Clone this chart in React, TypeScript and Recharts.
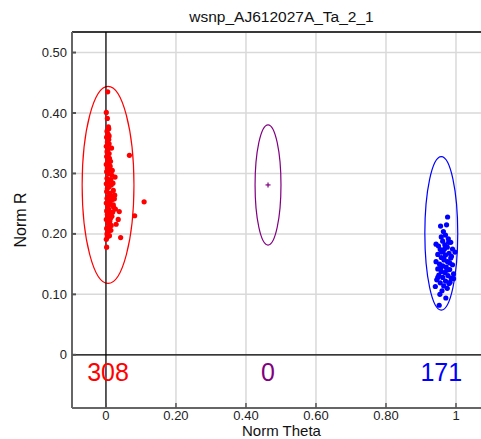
import {
  ScatterChart,
  Scatter,
  XAxis,
  YAxis,
  CartesianGrid,
  ReferenceLine,
  ReferenceArea,
  ReferenceDot,
} from "recharts";

// AA cluster (red)
const redTheta = [
  0.005, 0.001, 0.004, 0.007, 0.008, 0.003, 0.006, 0.002, 0.008, 0.004, 0.009, 0.001, 0.016, 0.006,
  0.003, 0.009, 0.067, 0.002, 0.010, 0.005, 0.008, 0.001, 0.012, 0.004, 0.010, 0.002, 0.007, 0.017,
  0.026, 0.003, 0.011, 0.006, 0.001, 0.015, 0.009, 0.004, 0.021, 0.002, 0.012, 0.025, 0.007, 0.003,
  0.018, 0.010, 0.109, 0.001, 0.014, 0.005, 0.022, 0.008, 0.038, 0.002, 0.012, 0.004, 0.082, 0.017,
  0.007, 0.035, 0.001, 0.011, 0.029, 0.005, 0.009, 0.002, 0.014, 0.006, 0.003, 0.010, 0.042, 0.004,
  0.001, 0.002, 0.009, 0.007, 0.013, 0.018, 0.014, 0.020, 0.019, 0.024, 0.021, 0.027, 0.019, 0.015,
  0.013,
];
const redR = [
  0.435, 0.401, 0.391, 0.377, 0.374, 0.370, 0.365, 0.360, 0.356, 0.352, 0.349, 0.345, 0.342, 0.340,
  0.336, 0.333, 0.330, 0.328, 0.325, 0.322, 0.318, 0.315, 0.312, 0.309, 0.306, 0.303, 0.300, 0.297,
  0.294, 0.292, 0.289, 0.286, 0.283, 0.281, 0.278, 0.275, 0.272, 0.270, 0.267, 0.264, 0.262, 0.259,
  0.257, 0.254, 0.253, 0.251, 0.249, 0.246, 0.244, 0.241, 0.237, 0.238, 0.235, 0.232, 0.230, 0.229,
  0.227, 0.224, 0.224, 0.221, 0.216, 0.218, 0.212, 0.209, 0.206, 0.203, 0.200, 0.197, 0.194, 0.195,
  0.191, 0.178, 0.362, 0.348, 0.320, 0.305, 0.290, 0.284, 0.262, 0.258, 0.248, 0.241, 0.236, 0.214,
  0.226,
];

// BB cluster (blue)
const blueTheta = [
  0.976, 0.956, 0.973, 0.964, 0.943, 0.970, 0.958, 0.978, 0.962, 0.985, 0.950, 0.968, 0.975, 0.990,
  0.955, 0.963, 0.997, 0.980, 0.948, 0.970, 0.958, 0.985, 0.966, 0.943, 0.976, 0.953, 0.990, 0.962,
  0.972, 0.948, 0.982, 0.958, 0.968, 0.993, 0.951, 0.977, 0.962, 0.986, 0.993, 0.945, 0.970, 0.955,
  0.980, 0.941, 0.965, 0.975, 0.954, 0.971, 0.952, 0.960, 0.967, 0.982, 0.959, 0.974, 0.987, 0.956,
  0.979, 0.965, 0.948, 0.983,
];
const blueR = [
  0.228, 0.213, 0.215, 0.204, 0.183, 0.198, 0.195, 0.192, 0.188, 0.186, 0.180, 0.182, 0.178, 0.175,
  0.174, 0.171, 0.170, 0.168, 0.166, 0.165, 0.161, 0.160, 0.157, 0.154, 0.154, 0.150, 0.149, 0.147,
  0.145, 0.142, 0.141, 0.138, 0.136, 0.134, 0.132, 0.131, 0.128, 0.127, 0.126, 0.124, 0.122, 0.119,
  0.118, 0.113, 0.114, 0.110, 0.100, 0.094, 0.082, 0.106, 0.175, 0.152, 0.170, 0.140, 0.163, 0.144,
  0.186, 0.159, 0.128, 0.120,
];

// cluster summaries: AA, AB, BB
const clusterCounts = ["308", "0", "171"];
const clusterTheta = [0.006, 0.463, 0.958];
const clusterR = [0.281, 0.281, 0.201];
const clusterThetaSpread = [0.074, 0.037, 0.047];
const clusterRSpread = [0.163, 0.0995, 0.127];
const clusterColors = ["#ff0000", "#800080", "#0000ff"];

const xTicks = [0, 0.2, 0.4, 0.6, 0.8, 1];
const yTicks = [0, 0.1, 0.2, 0.3, 0.4, 0.5];

const redData = redTheta.map((x, i) => ({ x, y: redR[i] }));
const blueData = blueTheta.map((x, i) => ({ x, y: blueR[i] }));
const centerData = [{ x: clusterTheta[1], y: clusterR[1] }];

const FONT = '"Liberation Sans", Arial, sans-serif';

const fmt = (v: number) => (v === 0 ? "0" : v === 1 ? "1" : v.toFixed(2));

const YTick = (props: any) => {
  const { x, y, payload } = props;
  return (
    <g>
      <line x1={x + 5} x2={x + 9} y1={y} y2={y} stroke="#555" strokeWidth={2} />
      <text x={x} y={y} dy={4.5} textAnchor="end" fontSize={13} fill="#222" fontFamily={FONT}>
        {fmt(payload.value)}
      </text>
    </g>
  );
};

const XTick = (props: any) => {
  const { x, y, payload } = props;
  return (
    <g>
      <line x1={x} x2={x} y1={y - 5} y2={y} stroke="#555" strokeWidth={1.5} />
      <text x={x} y={y + 12} textAnchor="middle" fontSize={13} fill="#222" fontFamily={FONT}>
        {fmt(payload.value)}
      </text>
    </g>
  );
};

const dot = (color: string) => (p: any) => <circle cx={p.cx} cy={p.cy} r={2.6} fill={color} />;

const plus = (p: any) => (
  <g stroke="#800080" strokeWidth={1.2}>
    <line x1={p.cx - 2.5} x2={p.cx + 2.5} y1={p.cy} y2={p.cy} />
    <line x1={p.cx} x2={p.cx} y1={p.cy - 2.5} y2={p.cy + 2.5} />
  </g>
);

export default function App() {
  return (
    <div
      style={{
        position: "fixed",
        left: 0,
        top: 0,
        width: 481,
        height: 439,
        overflow: "hidden",
        background: "#fff",
        fontFamily: FONT,
      }}
    >
      <ScatterChart width={500} height={439} margin={{ top: 32, right: 9, left: 0, bottom: 0 }}>
        <CartesianGrid stroke="#d9d9d9" strokeWidth={1.5} />
        <XAxis
          type="number"
          dataKey="x"
          domain={[-0.097, 1.1]}
          ticks={xTicks}
          allowDataOverflow
          height={31}
          tickSize={0}
          tickMargin={0}
          tickLine={false}
          axisLine={{ stroke: "#666", strokeWidth: 2 }}
          tick={<XTick />}
          label={{ value: "Norm Theta", position: "insideBottom", offset: 3, fontSize: 15, fill: "#111" }}
        />
        <YAxis
          type="number"
          dataKey="y"
          domain={[-0.088, 0.534]}
          ticks={yTicks}
          allowDataOverflow
          width={72}
          tickSize={0}
          tickMargin={5}
          tickLine={false}
          axisLine={{ stroke: "#666", strokeWidth: 2 }}
          tick={<YTick />}
        />
        <ReferenceLine y={0.534} stroke="#000" strokeWidth={1.5} ifOverflow="visible" />
        <ReferenceLine y={0} stroke="#000" strokeWidth={1.2} />
        <ReferenceLine x={0} stroke="#000" strokeWidth={1.2} />
        {clusterTheta.map((cx, i) => (
          <ReferenceArea
            key={"e" + i}
            x1={cx - clusterThetaSpread[i]}
            x2={cx + clusterThetaSpread[i]}
            y1={clusterR[i] - clusterRSpread[i]}
            y2={clusterR[i] + clusterRSpread[i]}
            ifOverflow="visible"
            shape={(p: any) => (
              <ellipse
                cx={p.x + p.width / 2}
                cy={p.y + p.height / 2}
                rx={Math.abs(p.width) / 2}
                ry={Math.abs(p.height) / 2}
                fill="none"
                stroke={clusterColors[i]}
                strokeWidth={1.2}
              />
            )}
          />
        ))}
        <Scatter data={redData} shape={dot("#ff0000")} isAnimationActive={false} />
        <Scatter data={blueData} shape={dot("#0000ff")} isAnimationActive={false} />
        <Scatter data={centerData} shape={plus} isAnimationActive={false} />
        {clusterTheta.map((cx, i) => (
          <ReferenceDot
            key={"c" + i}
            x={cx}
            y={-0.028}
            r={0}
            ifOverflow="visible"
            shape={(p: any) => (
              <text
                x={p.cx}
                y={p.cy + 9}
                textAnchor="middle"
                fontSize={25}
                fill={clusterColors[i]}
                fontFamily={FONT}
              >
                {clusterCounts[i]}
              </text>
            )}
          />
        ))}
      </ScatterChart>
      <svg
        width={481}
        height={439}
        style={{ position: "absolute", left: 0, top: 0, pointerEvents: "none" }}
      >
        <text x={281.5} y={22} textAnchor="middle" fontSize={15.5} fill="#111" fontFamily={FONT}>
          wsnp_AJ612027A_Ta_2_1
        </text>
        <text
          transform="translate(26,220) rotate(-90)"
          textAnchor="middle"
          fontSize={16}
          fill="#111"
          fontFamily={FONT}
        >
          Norm R
        </text>
      </svg>
    </div>
  );
}
